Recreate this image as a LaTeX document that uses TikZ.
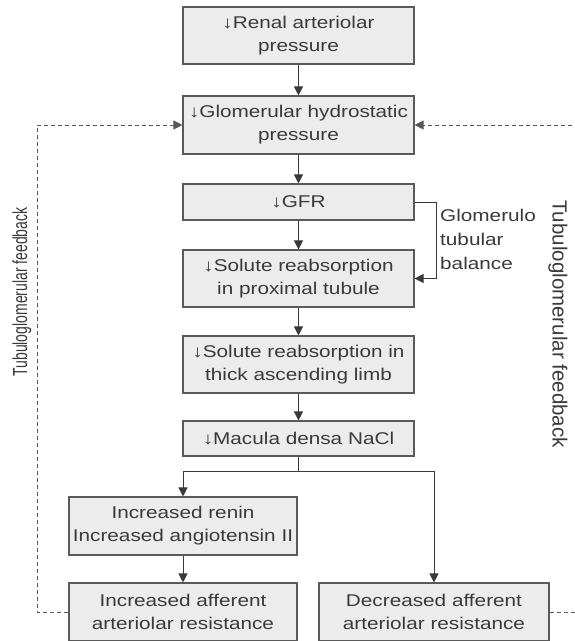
\documentclass[tikz,border=0pt]{standalone}
\usepackage{fontspec}
\setmainfont{Liberation Sans}
\newfontfamily\boxfont{Liberation Sans}[FakeStretch=1.22]
\newfontfamily\lblfont{Liberation Sans}
\usetikzlibrary{arrows.meta,calc}
\definecolor{boxfill}{HTML}{ECECEC}
\definecolor{boxdraw}{HTML}{5A5A5A}
\definecolor{txt}{HTML}{3A3A3A}
\tikzset{
  stepbox/.style={draw=boxdraw, line width=1.1pt, fill=boxfill, text=txt,
    minimum width=231pt, align=center, inner sep=0pt,
    font=\boxfont\fontsize{17}{23}\selectfont},
  arr/.style={draw=txt, line width=0.9pt, -{Triangle[length=9pt,width=9pt]}},
  dsh/.style={draw=boxdraw, line width=1pt, dash pattern=on 4pt off 3pt},
  dsharr/.style={dsh, -{Triangle[length=9pt,width=9pt]}},
  lbl/.style={text=txt, inner sep=0pt, font=\lblfont\fontsize{14}{17}\selectfont}
}
\begin{document}
\begin{tikzpicture}[x=1pt,y=-1pt]
\useasboundingbox (0,0) rectangle (574,641);
\fill[white] (0,0) rectangle (574,641);
\node[stepbox, minimum height=57pt] (b1) at (298.5,35.5) {↓Renal arteriolar\\pressure};
\node[stepbox, minimum height=58pt] (b2) at (298.5,125) {↓Glomerular hydrostatic\\pressure};
\node[stepbox, minimum height=36pt] (gfr) at (298.5,202) {↓GFR};
\node[stepbox, minimum height=57pt] (b4) at (298.5,278.5) {↓Solute reabsorption\\in proximal tubule};
\node[stepbox, minimum height=57pt] (b5) at (298.5,364.5) {↓Solute reabsorption in\\thick ascending limb};
\node[stepbox, minimum height=35pt] (mac) at (298.5,438.5) {↓Macula densa NaCl};
\node[stepbox, minimum height=58pt, minimum width=228pt] (b7) at (183,526) {Increased renin\\Increased angiotensin II};
\node[stepbox, minimum height=58pt, minimum width=228pt] (b8) at (183,612) {Increased afferent\\arteriolar resistance};
\node[stepbox, minimum height=58pt, minimum width=230pt] (b9) at (434,612) {Decreased afferent\\arteriolar resistance};

\draw[arr] (b1) -- (b2);
\draw[arr] (b2) -- (gfr);
\draw[arr] (gfr) -- (b4);
\draw[arr] (b4) -- (b5);
\draw[arr] (b5) -- (mac);
\draw[draw=txt, line width=0.9pt] (mac.south) -- ++(0,15) coordinate (br);
\draw[arr] (br) -| (b7.north);
\draw[arr] (br) -| (b9.north);
\draw[arr] (b7) -- (b8);

\draw[arr] (gfr.east) -- ++(22,0) |- (b4.east);
\node[lbl, anchor=west, align=left, font=\boxfont\fontsize{17}{24}\selectfont] (gtb) at (440,239) {Glomerulo\\tubular\\balance};

\coordinate (lx) at (37,0);
\coordinate (rx) at (580,0);
\draw[dsharr] (b8.west) -- (b8.west -| lx) |- (b2.west);
\draw[dsharr] (b9.east) -- (b9.east -| rx) |- (b2.east);

\node[lbl, rotate=90, yscale=1.45] (lfb) at (22,292) {Tubuloglomerular feedback};
\node[lbl, rotate=-90, font=\lblfont\fontsize{20.5}{24}\selectfont] (rfb) at (558,324) {Tubuloglomerular feedback};
\end{tikzpicture}
\end{document}
